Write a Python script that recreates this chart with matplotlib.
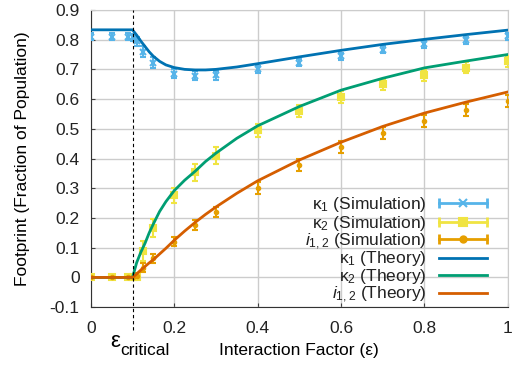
import matplotlib
matplotlib.use("Agg")
import matplotlib.pyplot as plt

plt.rcParams['font.family'] = ['Liberation Sans', 'DejaVu Sans']
plt.rcParams['mathtext.fontset'] = 'custom'
plt.rcParams['mathtext.rm'] = 'Liberation Sans'
plt.rcParams['mathtext.it'] = 'Liberation Sans:italic'

# simulation points (mean +- error)
x_sim = [0, 0.05, 0.09, 0.1, 0.11, 0.125, 0.15, 0.2, 0.25, 0.3, 0.4, 0.5, 0.6, 0.7, 0.8, 0.9, 1.0]
k1_sim = [0.81, 0.81, 0.81, 0.808, 0.795, 0.76, 0.722, 0.685, 0.678, 0.68, 0.70, 0.722, 0.744, 0.766, 0.785, 0.798, 0.811]
k1_err = [0.012, 0.012, 0.012, 0.012, 0.015, 0.018, 0.018, 0.015, 0.015, 0.015, 0.012, 0.012, 0.012, 0.012, 0.012, 0.012, 0.012]
k2_sim = [0, 0, 0, 0, 0.002, 0.09, 0.165, 0.277, 0.354, 0.41, 0.495, 0.56, 0.606, 0.65, 0.68, 0.706, 0.727]
k2_err = [0.004, 0.004, 0.004, 0.004, 0.006, 0.034, 0.03, 0.025, 0.028, 0.028, 0.022, 0.02, 0.02, 0.018, 0.018, 0.018, 0.018]
i_sim = [0, 0, 0, 0.002, 0.006, 0.033, 0.064, 0.12, 0.175, 0.22, 0.30, 0.377, 0.438, 0.485, 0.525, 0.562, 0.593]
i_err = [0.003, 0.003, 0.003, 0.004, 0.008, 0.015, 0.015, 0.015, 0.017, 0.018, 0.02, 0.02, 0.02, 0.02, 0.02, 0.02, 0.02]

# theory curves
x_th = [0, 0.1, 0.11, 0.12, 0.13, 0.14, 0.15, 0.165, 0.18, 0.2, 0.225, 0.25, 0.275, 0.3,
        0.35, 0.4, 0.5, 0.6, 0.7, 0.8, 0.9, 1.0]
k1_th = [0.833, 0.833, 0.815, 0.795, 0.777, 0.759, 0.744, 0.727, 0.715, 0.706, 0.700, 0.698, 0.698, 0.700,
         0.708, 0.719, 0.742, 0.764, 0.784, 0.801, 0.817, 0.832]
k2_th = [0, 0, 0.05, 0.085, 0.115, 0.15, 0.18, 0.222, 0.255, 0.292, 0.327, 0.357, 0.39, 0.418,
         0.468, 0.51, 0.575, 0.63, 0.67, 0.705, 0.728, 0.75]
i_th = [0, 0, 0.012, 0.025, 0.037, 0.049, 0.06, 0.079, 0.098, 0.125, 0.156, 0.185, 0.212, 0.237,
        0.283, 0.325, 0.395, 0.455, 0.508, 0.553, 0.59, 0.624]

eps_critical = 0.1

sim_colors = ['#56B4E9', '#F0E442', '#E69F00']
th_colors = ['#0072B2', '#009E73', '#D55E00']
sim_markers = [('x', 4), ('s', 4), ('o', 2.5)]
labels = ['κ$_1$ (Simulation)', 'κ$_2$ (Simulation)', '$i_{1,2}$ (Simulation)',
          'κ$_1$ (Theory)', 'κ$_2$ (Theory)', '$i_{1,2}$ (Theory)']

fig = plt.figure(figsize=(5.13, 3.67), dpi=100)
ax = fig.add_axes([0.177, 0.163, 0.813, 0.81])

for y, e, c, (m, ms) in zip([k1_sim, k2_sim, i_sim], [k1_err, k2_err, i_err], sim_colors, sim_markers):
    ax.errorbar(x_sim, y, yerr=e, fmt=m, color=c, ms=ms, mew=1.5,
                elinewidth=1.5, capsize=2.5, capthick=1.5, zorder=3)

for y, c in zip([k1_th, k2_th, i_th], th_colors):
    ax.plot(x_th, y, color=c, lw=2, zorder=4, solid_joinstyle='round')

ax.axvline(eps_critical, ymin=-0.078, ymax=1, color='black', lw=0.8,
           ls=(0, (3, 2.5)), clip_on=False, zorder=5)

ax.set_xlim(0, 1)
ax.set_ylim(-0.1, 0.9)
ax.set_xticks([0, 0.2, 0.4, 0.6, 0.8, 1.0])
ax.set_xticklabels(['0', '0.2', '0.4', '0.6', '0.8', '1'])
ax.set_yticks([-0.1, 0, 0.1, 0.2, 0.3, 0.4, 0.5, 0.6, 0.7, 0.8, 0.9])
ax.set_yticklabels(['-0.1', '0', '0.1', '0.2', '0.3', '0.4', '0.5', '0.6', '0.7', '0.8', '0.9'])
ax.tick_params(labelsize=12.5, direction='in', length=3, color='#404040',
               labelcolor='#222222')
ax.tick_params(axis='x', pad=10)
ax.tick_params(axis='y', pad=8)
ax.grid(True, color='#cccccc', lw=1)
ax.set_axisbelow(True)
for s in ['top', 'right']:
    ax.spines[s].set_color('#cccccc')
for s in ['left', 'bottom']:
    ax.spines[s].set_color('#333333')

ax.set_ylabel('Footprint (Fraction of Population)', fontsize=12.5, labelpad=14)
ax.set_xlabel('Interaction Factor (ε)', fontsize=12.5, labelpad=5)

# epsilon critical label under the dashed line
ax.annotate('ε', xy=(eps_critical, 0), xycoords=('data', 'axes fraction'),
            xytext=(-22, -40), textcoords='offset pixels', fontsize=16,
            ha='left', va='baseline', annotation_clip=False)
ax.annotate('critical', xy=(eps_critical, 0), xycoords=('data', 'axes fraction'),
            xytext=(-12, -48), textcoords='offset pixels', fontsize=12.5,
            ha='left', va='baseline', annotation_clip=False)

# gnuplot-style key: right-aligned text, sample to the right
rows = [0.349, 0.287, 0.228, 0.167, 0.108, 0.048]
x0, x1 = 0.835, 0.95
for k, lab in enumerate(labels):
    yk = rows[k]
    ax.text(0.806, yk - 0.02, lab, transform=ax.transAxes, fontsize=12.5,
            ha='right', va='baseline', color='#222222')
    if k < 3:
        c = sim_colors[k]
        m, ms = sim_markers[k]
        ax.plot([x0, x1], [yk, yk], color=c, lw=2, transform=ax.transAxes, clip_on=False)
        ax.plot([x0, x1], [yk, yk], color=c, ls='none', marker='|', ms=7, mew=2,
                transform=ax.transAxes, clip_on=False)
        ax.plot([(x0 + x1) / 2], [yk], color=c, ls='none', marker=m, ms=ms + 2, mew=1.5,
                transform=ax.transAxes, clip_on=False)
    else:
        ax.plot([x0, x1], [yk, yk], color=th_colors[k - 3], lw=2,
                transform=ax.transAxes, clip_on=False)

fig.savefig('out.png', dpi=100)
